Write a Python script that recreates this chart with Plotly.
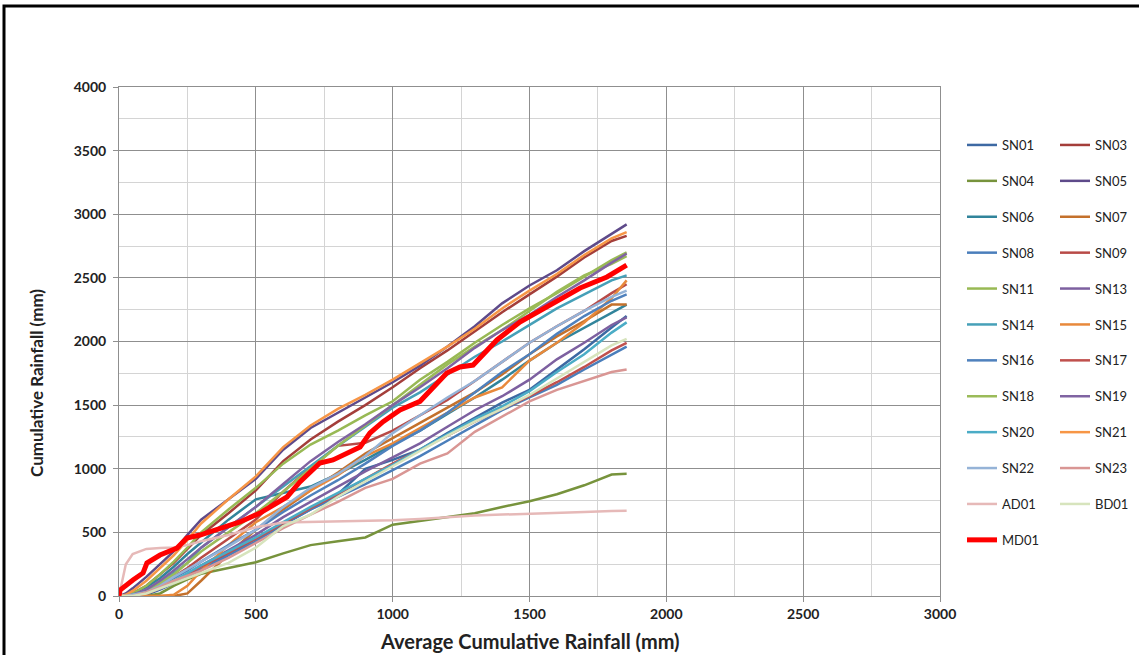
import plotly.graph_objects as go

# Average cumulative rainfall (mm) shared by the gauge series
AVG_RAIN = [0, 25, 50, 100, 150, 200, 250, 300, 400, 500, 600, 700, 800, 900,
            1000, 1100, 1200, 1300, 1400, 1500, 1600, 1700, 1800, 1855]

# Cumulative rainfall (mm) per gauge
SN01 = [0, 0, 0, 10, 50, 100, 150, 210, 330, 450, 560, 680, 800, 1000, 1070, 1150, 1280, 1400, 1520, 1620, 1780, 1940, 2110, 2200]
SN03 = [0, 0, 20, 80, 170, 260, 370, 480, 650, 830, 1060, 1230, 1370, 1500, 1640, 1790, 1930, 2080, 2230, 2370, 2510, 2660, 2790, 2830]
SN04 = [0, 0, 0, 0, 20, 80, 130, 175, 220, 265, 335, 400, 430, 460, 560, 590, 615, 650, 700, 745, 800, 870, 955, 960]
SN05 = [0, 20, 60, 150, 250, 350, 480, 600, 760, 920, 1150, 1320, 1440, 1560, 1680, 1810, 1960, 2120, 2300, 2440, 2560, 2710, 2850, 2920]
SN06 = [0, 0, 20, 70, 140, 230, 330, 420, 600, 760, 810, 860, 960, 1070, 1190, 1300, 1430, 1560, 1700, 1850, 1990, 2110, 2230, 2290]
SN07 = [0, 0, 0, 0, 0, 0, 20, 120, 330, 520, 680, 830, 970, 1120, 1240, 1360, 1480, 1600, 1740, 1900, 2040, 2160, 2290, 2290]
SN08 = [0, 0, 0, 20, 60, 110, 160, 210, 320, 430, 560, 680, 780, 880, 990, 1100, 1220, 1340, 1460, 1560, 1660, 1780, 1900, 1960]
SN09 = [0, 0, 10, 40, 90, 150, 220, 300, 450, 600, 820, 1010, 1180, 1205, 1300, 1420, 1540, 1690, 1840, 1990, 2120, 2240, 2380, 2450]
SN11 = [0, 0, 20, 80, 170, 270, 380, 500, 680, 850, 1040, 1190, 1300, 1420, 1530, 1700, 1840, 1990, 2130, 2260, 2380, 2510, 2640, 2700]
SN13 = [0, 0, 0, 20, 60, 110, 170, 240, 360, 480, 620, 740, 860, 980, 1090, 1200, 1330, 1460, 1570, 1700, 1860, 1990, 2130, 2190]
SN14 = [0, 0, 10, 40, 100, 180, 260, 380, 540, 700, 860, 1020, 1180, 1330, 1480, 1600, 1740, 1880, 2000, 2130, 2260, 2370, 2480, 2520]
SN15 = [0, 0, 0, 0, 0, 10, 80, 200, 400, 580, 700, 830, 950, 1100, 1200, 1320, 1440, 1560, 1640, 1850, 1990, 2150, 2340, 2480]
SN16 = [0, 0, 10, 30, 80, 140, 200, 270, 400, 520, 660, 790, 910, 1040, 1180, 1300, 1440, 1600, 1760, 1900, 2060, 2200, 2320, 2370]
SN17 = [0, 0, 0, 20, 60, 110, 170, 230, 340, 450, 570, 690, 800, 920, 1040, 1150, 1260, 1370, 1470, 1570, 1680, 1800, 1930, 1990]
SN18 = [0, 0, 10, 40, 100, 170, 260, 350, 500, 650, 820, 1000, 1180, 1340, 1500, 1660, 1820, 1960, 2090, 2240, 2390, 2520, 2610, 2670]
SN19 = [0, 0, 10, 50, 120, 200, 290, 380, 540, 700, 880, 1060, 1210, 1350, 1500, 1640, 1790, 1950, 2090, 2210, 2350, 2480, 2620, 2690]
SN20 = [0, 0, 10, 30, 70, 120, 180, 240, 350, 460, 580, 700, 810, 920, 1030, 1150, 1270, 1390, 1490, 1610, 1760, 1900, 2070, 2150]
SN21 = [0, 10, 40, 120, 220, 320, 440, 570, 760, 940, 1170, 1340, 1470, 1580, 1700, 1830, 1960, 2100, 2260, 2400, 2530, 2680, 2810, 2860]
SN22 = [0, 0, 10, 30, 80, 150, 210, 270, 390, 520, 700, 850, 960, 1100, 1280, 1420, 1560, 1690, 1840, 1990, 2120, 2240, 2350, 2400]
SN23 = [0, 0, 0, 30, 70, 120, 160, 200, 300, 420, 534, 640, 740, 850, 920, 1040, 1120, 1290, 1410, 1530, 1620, 1690, 1760, 1780]
AD01 = [0, 250, 330, 370, 378, 382, 400, 430, 480, 540, 578, 582, 585, 588, 595, 605, 620, 632, 640, 645, 652, 660, 668, 670]
BD01 = [0, 0, 0, 20, 60, 100, 140, 180, 260, 380, 550, 640, 780, 900, 1020, 1140, 1260, 1370, 1470, 1580, 1710, 1840, 1970, 2020]

# Mean daily gauge, recorded on its own steps
MD01_X = [0, 4, 51, 88, 102, 150, 212, 248, 296, 369, 442, 515, 614, 661, 734, 782,
          881, 917, 965, 1027, 1100, 1198, 1246, 1294, 1381, 1465, 1564, 1685, 1783, 1855]
MD01_Y = [0, 47, 126, 181, 259, 322, 377, 456, 479, 534, 582, 652, 778, 896, 1045, 1069,
          1171, 1281, 1370, 1462, 1530, 1752, 1800, 1815, 2012, 2153, 2271, 2420, 2507, 2600]

# (name, values, colour, legend column)
SERIES = [
    ("SN01", SN01, "#3D69A3", "legend"),
    ("SN03", SN03, "#A43E3A", "legend2"),
    ("SN04", SN04, "#77933C", "legend"),
    ("SN05", SN05, "#5E4A8A", "legend2"),
    ("SN06", SN06, "#31849B", "legend"),
    ("SN07", SN07, "#C4712C", "legend2"),
    ("SN08", SN08, "#4A7EBB", "legend"),
    ("SN09", SN09, "#B84A47", "legend2"),
    ("SN11", SN11, "#98B954", "legend"),
    ("SN13", SN13, "#7D60A0", "legend2"),
    ("SN14", SN14, "#46A0B8", "legend"),
    ("SN15", SN15, "#E8893B", "legend2"),
    ("SN16", SN16, "#4F81BD", "legend"),
    ("SN17", SN17, "#C0504D", "legend2"),
    ("SN18", SN18, "#9BBB59", "legend"),
    ("SN19", SN19, "#8064A2", "legend2"),
    ("SN20", SN20, "#4BACC6", "legend"),
    ("SN21", SN21, "#F79646", "legend2"),
    ("SN22", SN22, "#95B3D7", "legend"),
    ("SN23", SN23, "#D99694", "legend2"),
    ("AD01", AD01, "#E6B9B8", "legend"),
    ("BD01", BD01, "#D7E4BD", "legend2"),
]

W, H = 1139, 655
L, R, T, B = 119, 199, 87, 59

fig = go.Figure()
for name, vals, color, leg in SERIES:
    fig.add_trace(go.Scatter(
        x=AVG_RAIN, y=vals, mode="lines", name=name,
        line=dict(color=color, width=2.5),
        legend=leg, legendgroup=name,
    ))
fig.add_trace(go.Scatter(
    x=MD01_X, y=MD01_Y, mode="lines", name="MD01",
    line=dict(color="#FF0000", width=5),
    legend="legend", legendgroup="MD01",
))

tick_font = dict(family="Lato", size=14, color="#222222", weight="bold")
axis_common = dict(
    showgrid=True, gridcolor="#8f8f8f", gridwidth=1,
    minor=dict(showgrid=True, gridcolor="#d4d4d4", gridwidth=1),
    showline=True, linecolor="#8f8f8f", linewidth=1, mirror=True,
    ticks="outside", ticklen=5, tickcolor="#8f8f8f",
    tickfont=tick_font, zeroline=False, fixedrange=True,
)

legend_common = dict(
    xref="container", yref="container", xanchor="left", yanchor="top",
    font=dict(family="Lato", size=13, color="#222222"),
    bgcolor="rgba(0,0,0,0)", tracegroupgap=16, itemwidth=30,
    traceorder="grouped", maxheight=600,
)

fig.update_layout(
    width=W, height=H,
    margin=dict(l=L, r=R, t=T, b=B, autoexpand=False),
    paper_bgcolor="white", plot_bgcolor="white",
    xaxis=dict(range=[0, 3000], tick0=0, dtick=500, **axis_common),
    yaxis=dict(range=[0, 4000], tick0=0, dtick=500, ticklabelstandoff=4, **axis_common),
    legend=dict(x=962 / W, y=1 - 130 / H, **legend_common),
    legend2=dict(x=1055 / W, y=1 - 130 / H, **legend_common),
    showlegend=True,
)
fig.update_xaxes(minor=dict(dtick=250))
fig.update_yaxes(minor=dict(dtick=250))

pw, ph = W - L - R, H - T - B


def px_x(p):
    return (p - L) / pw


def px_y(p):
    return (H - B - p) / ph


fig.add_annotation(
    text="Average Cumulative Rainfall (mm)", showarrow=False,
    xref="paper", yref="paper", x=px_x(530), y=px_y(641),
    xanchor="center", yanchor="middle",
    font=dict(family="Lato", size=20, color="#222222", weight="bold"),
)
fig.add_annotation(
    text="Cumulative Rainfall (mm)", showarrow=False, textangle=-90,
    xref="paper", yref="paper", x=px_x(36), y=px_y(383),
    xanchor="center", yanchor="middle",
    font=dict(family="Lato", size=17, color="#222222", weight="bold"),
)

# black outer frame around the chart
fig.add_shape(
    type="rect", xref="paper", yref="paper",
    x0=px_x(4), x1=px_x(W + 40), y0=px_y(H + 40), y1=px_y(6),
    line=dict(color="black", width=3), fillcolor="rgba(0,0,0,0)", layer="above",
)

fig.write_html("out.html", config=dict(displayModeBar=False))
